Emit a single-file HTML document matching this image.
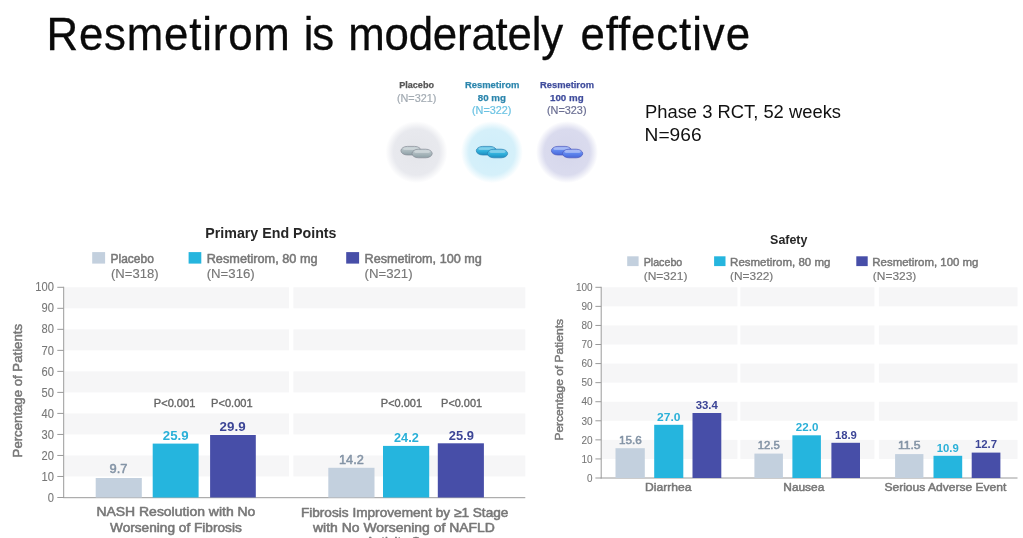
<!DOCTYPE html>
<html lang="en">
<head>
<meta charset="utf-8">
<title>Resmetirom is moderately effective</title>
<style>
html,body{margin:0;padding:0;background:#ffffff;}
body{width:1023px;height:538px;overflow:hidden;position:relative;}
svg{position:absolute;left:0;top:0;display:block;filter:blur(0.45px);font-family:'Liberation Sans', 'DejaVu Sans', sans-serif;}
</style>
</head>
<body>
<svg width="1023" height="538" viewBox="0 0 1023 538" font-family="'Liberation Sans', 'DejaVu Sans', sans-serif">
<text transform="scale(0.94 1)" y="50" font-size="46.6" fill="#0a0a0a" stroke="#0a0a0a" stroke-width="0.3" style="font-variant-ligatures:none"><tspan x="49.47" textLength="258.83" lengthAdjust="spacing">Resmetirom</tspan> <tspan x="323.19" textLength="32.23" lengthAdjust="spacing">is</tspan> <tspan x="370.43" textLength="228.72" lengthAdjust="spacing">moderately</tspan> <tspan x="617.45" textLength="180.43" lengthAdjust="spacing">effective</tspan></text>
<text x="645" y="117.7" font-size="17.5" fill="#111" font-weight="normal" text-anchor="start" textLength="196" lengthAdjust="spacingAndGlyphs">Phase 3 RCT, 52 weeks</text>
<text x="644.6" y="141.1" font-size="17.5" fill="#111" font-weight="normal" text-anchor="start" textLength="57" lengthAdjust="spacingAndGlyphs">N=966</text>
<defs>
<radialGradient id="gG"><stop offset="0" stop-color="#e4e5ea"/><stop offset="0.74" stop-color="#e8e9ee"/><stop offset="1" stop-color="#ffffff"/></radialGradient>
<radialGradient id="gC"><stop offset="0" stop-color="#cfeefa"/><stop offset="0.74" stop-color="#d5f0fa"/><stop offset="1" stop-color="#ffffff"/></radialGradient>
<radialGradient id="gB"><stop offset="0" stop-color="#d5d6eb"/><stop offset="0.74" stop-color="#dadbee"/><stop offset="1" stop-color="#ffffff"/></radialGradient>
<linearGradient id="pG" x1="0" y1="0" x2="0" y2="1"><stop offset="0" stop-color="#c3ced3"/><stop offset="0.55" stop-color="#a9b7bc"/><stop offset="1" stop-color="#8da0a6"/></linearGradient>
<linearGradient id="pC" x1="0" y1="0" x2="0" y2="1"><stop offset="0" stop-color="#62c6e8"/><stop offset="0.55" stop-color="#2fb0dc"/><stop offset="1" stop-color="#1f8dbf"/></linearGradient>
<linearGradient id="pB" x1="0" y1="0" x2="0" y2="1"><stop offset="0" stop-color="#9fb2f6"/><stop offset="0.5" stop-color="#5f86ee"/><stop offset="1" stop-color="#4868d8"/></linearGradient>
</defs>
<circle cx="416.5" cy="152.1" r="31" fill="url(#gG)"/>
<rect x="400.9" y="146.4" width="20.2" height="8.6" rx="6.5" ry="4.3" fill="url(#pG)" stroke="#868d96" stroke-width="0.7"/>
<rect x="403.1" y="147.5" width="15.8" height="2.6" rx="1.3" ry="1.3" fill="#ffffff" opacity="0.3"/>
<rect x="412.0" y="149.2" width="20.2" height="8.6" rx="6.5" ry="4.3" fill="url(#pG)" stroke="#868d96" stroke-width="0.7"/>
<rect x="414.2" y="150.3" width="15.8" height="2.6" rx="1.3" ry="1.3" fill="#ffffff" opacity="0.3"/>
<circle cx="491.9" cy="152.1" r="31" fill="url(#gC)"/>
<rect x="476.3" y="146.4" width="20.2" height="8.6" rx="6.5" ry="4.3" fill="url(#pC)" stroke="#2a80b2" stroke-width="0.7"/>
<rect x="478.5" y="147.5" width="15.8" height="2.6" rx="1.3" ry="1.3" fill="#ffffff" opacity="0.3"/>
<rect x="487.4" y="149.2" width="20.2" height="8.6" rx="6.5" ry="4.3" fill="url(#pC)" stroke="#2a80b2" stroke-width="0.7"/>
<rect x="489.6" y="150.3" width="15.8" height="2.6" rx="1.3" ry="1.3" fill="#ffffff" opacity="0.3"/>
<circle cx="567.0" cy="152.1" r="31" fill="url(#gB)"/>
<rect x="551.4" y="146.4" width="20.2" height="8.6" rx="6.5" ry="4.3" fill="url(#pB)" stroke="#4a58bd" stroke-width="0.7"/>
<rect x="553.6" y="147.5" width="15.8" height="2.6" rx="1.3" ry="1.3" fill="#ffffff" opacity="0.3"/>
<rect x="562.5" y="149.2" width="20.2" height="8.6" rx="6.5" ry="4.3" fill="url(#pB)" stroke="#4a58bd" stroke-width="0.7"/>
<rect x="564.7" y="150.3" width="15.8" height="2.6" rx="1.3" ry="1.3" fill="#ffffff" opacity="0.3"/>
<text x="399.2" y="88.2" font-size="9.9" fill="#555555" font-weight="bold" text-anchor="start" textLength="34.8" lengthAdjust="spacingAndGlyphs" stroke-width="0.25" stroke-linejoin="round" stroke="#555555">Placebo</text>
<text x="396.9" y="101.9" font-size="10.2" fill="#a3abb3" font-weight="normal" text-anchor="start" textLength="39.4" lengthAdjust="spacingAndGlyphs" stroke="#a3abb3" stroke-width="0.2" stroke-linejoin="round">(N=321)</text>
<text x="464.9" y="88.2" font-size="9.9" fill="#2c86ad" font-weight="bold" text-anchor="start" textLength="54.5" lengthAdjust="spacingAndGlyphs" stroke-width="0.25" stroke-linejoin="round" stroke="#2c86ad">Resmetirom</text>
<text x="477.8" y="101.2" font-size="9.9" fill="#2c86ad" font-weight="bold" text-anchor="start" textLength="28.2" lengthAdjust="spacingAndGlyphs" stroke-width="0.25" stroke-linejoin="round" stroke="#2c86ad">80 mg</text>
<text x="472.0" y="113.6" font-size="10.2" fill="#6cc3e3" font-weight="normal" text-anchor="start" textLength="39.4" lengthAdjust="spacingAndGlyphs" stroke="#6cc3e3" stroke-width="0.2" stroke-linejoin="round">(N=322)</text>
<text x="540.0" y="88.2" font-size="9.9" fill="#3f4c9c" font-weight="bold" text-anchor="start" textLength="54.0" lengthAdjust="spacingAndGlyphs" stroke-width="0.25" stroke-linejoin="round" stroke="#3f4c9c">Resmetirom</text>
<text x="550.0" y="101.2" font-size="9.9" fill="#3f4c9c" font-weight="bold" text-anchor="start" textLength="33.6" lengthAdjust="spacingAndGlyphs" stroke-width="0.25" stroke-linejoin="round" stroke="#3f4c9c">100 mg</text>
<text x="547.0" y="113.6" font-size="10.2" fill="#6b6f93" font-weight="normal" text-anchor="start" textLength="39.5" lengthAdjust="spacingAndGlyphs" stroke="#6b6f93" stroke-width="0.2" stroke-linejoin="round">(N=323)</text>
<text x="205.3" y="237.9" font-size="14.6" fill="#262626" font-weight="bold" text-anchor="start" textLength="131.2" lengthAdjust="spacingAndGlyphs">Primary End Points</text>
<rect x="92.2" y="252.1" width="12.9" height="11.5" fill="#c3d0de"/>
<text x="110.5" y="263.1" font-size="12.3" fill="#777777" font-weight="normal" text-anchor="start" textLength="43.4" lengthAdjust="spacingAndGlyphs" stroke="#777777" stroke-width="0.5" stroke-linejoin="round">Placebo</text>
<text x="111.0" y="278.3" font-size="12.3" fill="#777777" font-weight="normal" text-anchor="start" textLength="47.6" lengthAdjust="spacingAndGlyphs" stroke="#777777" stroke-width="0.15" stroke-linejoin="round">(N=318)</text>
<rect x="188.6" y="252.1" width="12.7" height="11.5" fill="#25b5de"/>
<text x="206.7" y="263.1" font-size="12.3" fill="#777777" font-weight="normal" text-anchor="start" textLength="110.9" lengthAdjust="spacingAndGlyphs" stroke="#777777" stroke-width="0.5" stroke-linejoin="round">Resmetirom, 80 mg</text>
<text x="206.7" y="278.3" font-size="12.3" fill="#777777" font-weight="normal" text-anchor="start" textLength="48.1" lengthAdjust="spacingAndGlyphs" stroke="#777777" stroke-width="0.15" stroke-linejoin="round">(N=316)</text>
<rect x="346.2" y="252.1" width="12.9" height="11.5" fill="#474ea8"/>
<text x="364.5" y="263.1" font-size="12.3" fill="#777777" font-weight="normal" text-anchor="start" textLength="117.3" lengthAdjust="spacingAndGlyphs" stroke="#777777" stroke-width="0.5" stroke-linejoin="round">Resmetirom, 100 mg</text>
<text x="364.5" y="278.3" font-size="12.3" fill="#777777" font-weight="normal" text-anchor="start" textLength="48.1" lengthAdjust="spacingAndGlyphs" stroke="#777777" stroke-width="0.15" stroke-linejoin="round">(N=321)</text>
<rect x="64.2" y="287.3" width="224.8" height="21.02" fill="#f6f6f7"/>
<rect x="293.4" y="287.3" width="231.9" height="21.02" fill="#f6f6f7"/>
<rect x="64.2" y="329.34000000000003" width="224.8" height="21.02" fill="#f6f6f7"/>
<rect x="293.4" y="329.34000000000003" width="231.9" height="21.02" fill="#f6f6f7"/>
<rect x="64.2" y="371.38" width="224.8" height="21.02" fill="#f6f6f7"/>
<rect x="293.4" y="371.38" width="231.9" height="21.02" fill="#f6f6f7"/>
<rect x="64.2" y="413.42" width="224.8" height="21.02" fill="#f6f6f7"/>
<rect x="293.4" y="413.42" width="231.9" height="21.02" fill="#f6f6f7"/>
<rect x="64.2" y="455.46" width="224.8" height="21.02" fill="#f6f6f7"/>
<rect x="293.4" y="455.46" width="231.9" height="21.02" fill="#f6f6f7"/>
<path d="M63.7 286.8 V498.0 M63.2 497.7 H525.3" stroke="#9a9a9a" stroke-width="1" fill="none"/>
<path d="M57.3 497.50 H63.7" stroke="#9a9a9a" stroke-width="1"/>
<text x="53.9" y="501.65" font-size="12" fill="#777777" font-weight="normal" text-anchor="end" textLength="6.2" lengthAdjust="spacingAndGlyphs" stroke="#777777" stroke-width="0.1" stroke-linejoin="round">0</text>
<path d="M57.3 476.48 H63.7" stroke="#9a9a9a" stroke-width="1"/>
<text x="53.9" y="480.63" font-size="12" fill="#777777" font-weight="normal" text-anchor="end" textLength="12.4" lengthAdjust="spacingAndGlyphs" stroke="#777777" stroke-width="0.1" stroke-linejoin="round">10</text>
<path d="M57.3 455.46 H63.7" stroke="#9a9a9a" stroke-width="1"/>
<text x="53.9" y="459.61" font-size="12" fill="#777777" font-weight="normal" text-anchor="end" textLength="12.4" lengthAdjust="spacingAndGlyphs" stroke="#777777" stroke-width="0.1" stroke-linejoin="round">20</text>
<path d="M57.3 434.44 H63.7" stroke="#9a9a9a" stroke-width="1"/>
<text x="53.9" y="438.59" font-size="12" fill="#777777" font-weight="normal" text-anchor="end" textLength="12.4" lengthAdjust="spacingAndGlyphs" stroke="#777777" stroke-width="0.1" stroke-linejoin="round">30</text>
<path d="M57.3 413.42 H63.7" stroke="#9a9a9a" stroke-width="1"/>
<text x="53.9" y="417.57" font-size="12" fill="#777777" font-weight="normal" text-anchor="end" textLength="12.4" lengthAdjust="spacingAndGlyphs" stroke="#777777" stroke-width="0.1" stroke-linejoin="round">40</text>
<path d="M57.3 392.40 H63.7" stroke="#9a9a9a" stroke-width="1"/>
<text x="53.9" y="396.55" font-size="12" fill="#777777" font-weight="normal" text-anchor="end" textLength="12.4" lengthAdjust="spacingAndGlyphs" stroke="#777777" stroke-width="0.1" stroke-linejoin="round">50</text>
<path d="M57.3 371.38 H63.7" stroke="#9a9a9a" stroke-width="1"/>
<text x="53.9" y="375.53" font-size="12" fill="#777777" font-weight="normal" text-anchor="end" textLength="12.4" lengthAdjust="spacingAndGlyphs" stroke="#777777" stroke-width="0.1" stroke-linejoin="round">60</text>
<path d="M57.3 350.36 H63.7" stroke="#9a9a9a" stroke-width="1"/>
<text x="53.9" y="354.51" font-size="12" fill="#777777" font-weight="normal" text-anchor="end" textLength="12.4" lengthAdjust="spacingAndGlyphs" stroke="#777777" stroke-width="0.1" stroke-linejoin="round">70</text>
<path d="M57.3 329.34 H63.7" stroke="#9a9a9a" stroke-width="1"/>
<text x="53.9" y="333.49" font-size="12" fill="#777777" font-weight="normal" text-anchor="end" textLength="12.4" lengthAdjust="spacingAndGlyphs" stroke="#777777" stroke-width="0.1" stroke-linejoin="round">80</text>
<path d="M57.3 308.32 H63.7" stroke="#9a9a9a" stroke-width="1"/>
<text x="53.9" y="312.47" font-size="12" fill="#777777" font-weight="normal" text-anchor="end" textLength="12.4" lengthAdjust="spacingAndGlyphs" stroke="#777777" stroke-width="0.1" stroke-linejoin="round">90</text>
<path d="M57.3 287.30 H63.7" stroke="#9a9a9a" stroke-width="1"/>
<text x="53.9" y="291.45" font-size="12" fill="#777777" font-weight="normal" text-anchor="end" textLength="18.6" lengthAdjust="spacingAndGlyphs" stroke="#777777" stroke-width="0.1" stroke-linejoin="round">100</text>
<text transform="translate(21.9 457.4) rotate(-90)" font-size="13.0" fill="#777777" stroke="#777777" stroke-width="0.5" textLength="133.4" lengthAdjust="spacingAndGlyphs">Percentage of Patients</text>
<rect x="95.7" y="478.0" width="46.1" height="19.5" fill="#c3d0de"/>
<rect x="152.7" y="443.6" width="45.9" height="53.9" fill="#25b5de"/>
<rect x="210.1" y="435.0" width="45.7" height="62.5" fill="#474ea8"/>
<text x="109.6" y="473.4" font-size="13.5" fill="#8494a6" font-weight="normal" text-anchor="start" textLength="17.9" lengthAdjust="spacingAndGlyphs" stroke="#8494a6" stroke-width="0.55" stroke-linejoin="round">9.7</text>
<text x="162.8" y="439.7" font-size="13.5" fill="#2ab0d8" font-weight="bold" text-anchor="start" textLength="25.8" lengthAdjust="spacingAndGlyphs">25.9</text>
<text x="219.6" y="430.6" font-size="13.5" fill="#3c4596" font-weight="bold" text-anchor="start" textLength="26.0" lengthAdjust="spacingAndGlyphs">29.9</text>
<text x="153.8" y="406.8" font-size="10.8" fill="#646464" font-weight="normal" text-anchor="start" textLength="41.5" lengthAdjust="spacingAndGlyphs" stroke="#646464" stroke-width="0.35" stroke-linejoin="round">P&lt;0.001</text>
<text x="211.1" y="406.8" font-size="10.8" fill="#646464" font-weight="normal" text-anchor="start" textLength="41.5" lengthAdjust="spacingAndGlyphs" stroke="#646464" stroke-width="0.35" stroke-linejoin="round">P&lt;0.001</text>
<text x="96.4" y="516.3" font-size="12.9" fill="#777777" font-weight="normal" text-anchor="start" textLength="159.0" lengthAdjust="spacingAndGlyphs" stroke="#777777" stroke-width="0.55" stroke-linejoin="round">NASH Resolution with No</text>
<text x="110.0" y="531.8" font-size="12.9" fill="#777777" font-weight="normal" text-anchor="start" textLength="131.8" lengthAdjust="spacingAndGlyphs" stroke="#777777" stroke-width="0.55" stroke-linejoin="round">Worsening of Fibrosis</text>
<rect x="328.3" y="467.8" width="46.2" height="29.7" fill="#c3d0de"/>
<rect x="383.0" y="445.9" width="46.2" height="51.6" fill="#25b5de"/>
<rect x="437.8" y="443.3" width="46.1" height="54.2" fill="#474ea8"/>
<text x="339.0" y="463.8" font-size="13.5" fill="#8494a6" font-weight="normal" text-anchor="start" textLength="24.8" lengthAdjust="spacingAndGlyphs" stroke="#8494a6" stroke-width="0.55" stroke-linejoin="round">14.2</text>
<text x="394.0" y="441.7" font-size="13.5" fill="#2ab0d8" font-weight="bold" text-anchor="start" textLength="24.8" lengthAdjust="spacingAndGlyphs">24.2</text>
<text x="448.8" y="439.5" font-size="13.5" fill="#3c4596" font-weight="bold" text-anchor="start" textLength="25.1" lengthAdjust="spacingAndGlyphs">25.9</text>
<text x="380.8" y="407.0" font-size="10.8" fill="#646464" font-weight="normal" text-anchor="start" textLength="41.3" lengthAdjust="spacingAndGlyphs" stroke="#646464" stroke-width="0.35" stroke-linejoin="round">P&lt;0.001</text>
<text x="441.1" y="407.0" font-size="10.8" fill="#646464" font-weight="normal" text-anchor="start" textLength="41.0" lengthAdjust="spacingAndGlyphs" stroke="#646464" stroke-width="0.35" stroke-linejoin="round">P&lt;0.001</text>
<text x="300.9" y="516.6" font-size="12.9" fill="#777777" font-weight="normal" text-anchor="start" textLength="207.5" lengthAdjust="spacingAndGlyphs" stroke="#777777" stroke-width="0.55" stroke-linejoin="round">Fibrosis Improvement by ≥1 Stage</text>
<text x="313.0" y="532.0" font-size="12.9" fill="#777777" font-weight="normal" text-anchor="start" textLength="181.9" lengthAdjust="spacingAndGlyphs" stroke="#777777" stroke-width="0.55" stroke-linejoin="round">with No Worsening of NAFLD</text>
<text x="365.8" y="546.3" font-size="12.9" fill="#777777" font-weight="normal" text-anchor="start" textLength="80.4" lengthAdjust="spacingAndGlyphs" stroke="#777777" stroke-width="0.55" stroke-linejoin="round">Activity Score</text>
<text x="770.1" y="243.6" font-size="13.7" fill="#262626" font-weight="bold" text-anchor="start" textLength="37.3" lengthAdjust="spacingAndGlyphs">Safety</text>
<rect x="627.2" y="256.3" width="11.4" height="9.8" fill="#c3d0de"/>
<text x="643.7" y="266.0" font-size="11.2" fill="#777777" font-weight="normal" text-anchor="start" textLength="38.6" lengthAdjust="spacingAndGlyphs" stroke="#777777" stroke-width="0.45" stroke-linejoin="round">Placebo</text>
<text x="643.7" y="280.4" font-size="11.2" fill="#777777" font-weight="normal" text-anchor="start" textLength="43.7" lengthAdjust="spacingAndGlyphs" stroke="#777777" stroke-width="0.15" stroke-linejoin="round">(N=321)</text>
<rect x="714.1" y="256.3" width="11.4" height="9.8" fill="#25b5de"/>
<text x="730.1" y="266.0" font-size="11.2" fill="#777777" font-weight="normal" text-anchor="start" textLength="100.3" lengthAdjust="spacingAndGlyphs" stroke="#777777" stroke-width="0.45" stroke-linejoin="round">Resmetirom, 80 mg</text>
<text x="730.1" y="280.4" font-size="11.2" fill="#777777" font-weight="normal" text-anchor="start" textLength="43.2" lengthAdjust="spacingAndGlyphs" stroke="#777777" stroke-width="0.15" stroke-linejoin="round">(N=322)</text>
<rect x="856.3" y="256.3" width="11.4" height="9.8" fill="#474ea8"/>
<text x="872.3" y="266.0" font-size="11.2" fill="#777777" font-weight="normal" text-anchor="start" textLength="106.2" lengthAdjust="spacingAndGlyphs" stroke="#777777" stroke-width="0.45" stroke-linejoin="round">Resmetirom, 100 mg</text>
<text x="872.8" y="280.4" font-size="11.2" fill="#777777" font-weight="normal" text-anchor="start" textLength="43.5" lengthAdjust="spacingAndGlyphs" stroke="#777777" stroke-width="0.15" stroke-linejoin="round">(N=323)</text>
<rect x="602.0" y="287.3" width="135.4" height="19.07" fill="#f6f6f7"/>
<rect x="740.4" y="287.3" width="134.0" height="19.07" fill="#f6f6f7"/>
<rect x="878.9" y="287.3" width="138.6" height="19.07" fill="#f6f6f7"/>
<rect x="602.0" y="325.44" width="135.4" height="19.07" fill="#f6f6f7"/>
<rect x="740.4" y="325.44" width="134.0" height="19.07" fill="#f6f6f7"/>
<rect x="878.9" y="325.44" width="138.6" height="19.07" fill="#f6f6f7"/>
<rect x="602.0" y="363.58" width="135.4" height="19.07" fill="#f6f6f7"/>
<rect x="740.4" y="363.58" width="134.0" height="19.07" fill="#f6f6f7"/>
<rect x="878.9" y="363.58" width="138.6" height="19.07" fill="#f6f6f7"/>
<rect x="602.0" y="401.72" width="135.4" height="19.07" fill="#f6f6f7"/>
<rect x="740.4" y="401.72" width="134.0" height="19.07" fill="#f6f6f7"/>
<rect x="878.9" y="401.72" width="138.6" height="19.07" fill="#f6f6f7"/>
<rect x="602.0" y="439.86" width="135.4" height="19.07" fill="#f6f6f7"/>
<rect x="740.4" y="439.86" width="134.0" height="19.07" fill="#f6f6f7"/>
<rect x="878.9" y="439.86" width="138.6" height="19.07" fill="#f6f6f7"/>
<path d="M601.2 286.8 V478.5 M600.7 478.0 H1017.5" stroke="#9a9a9a" stroke-width="1" fill="none"/>
<path d="M595.4 478.00 H601.2" stroke="#9a9a9a" stroke-width="1"/>
<text x="592.5" y="481.75" font-size="10.8" fill="#777777" font-weight="normal" text-anchor="end" textLength="5.5" lengthAdjust="spacingAndGlyphs" stroke="#777777" stroke-width="0.1" stroke-linejoin="round">0</text>
<path d="M595.4 458.93 H601.2" stroke="#9a9a9a" stroke-width="1"/>
<text x="592.5" y="462.68" font-size="10.8" fill="#777777" font-weight="normal" text-anchor="end" textLength="11.1" lengthAdjust="spacingAndGlyphs" stroke="#777777" stroke-width="0.1" stroke-linejoin="round">10</text>
<path d="M595.4 439.86 H601.2" stroke="#9a9a9a" stroke-width="1"/>
<text x="592.5" y="443.61" font-size="10.8" fill="#777777" font-weight="normal" text-anchor="end" textLength="11.1" lengthAdjust="spacingAndGlyphs" stroke="#777777" stroke-width="0.1" stroke-linejoin="round">20</text>
<path d="M595.4 420.79 H601.2" stroke="#9a9a9a" stroke-width="1"/>
<text x="592.5" y="424.54" font-size="10.8" fill="#777777" font-weight="normal" text-anchor="end" textLength="11.1" lengthAdjust="spacingAndGlyphs" stroke="#777777" stroke-width="0.1" stroke-linejoin="round">30</text>
<path d="M595.4 401.72 H601.2" stroke="#9a9a9a" stroke-width="1"/>
<text x="592.5" y="405.47" font-size="10.8" fill="#777777" font-weight="normal" text-anchor="end" textLength="11.1" lengthAdjust="spacingAndGlyphs" stroke="#777777" stroke-width="0.1" stroke-linejoin="round">40</text>
<path d="M595.4 382.65 H601.2" stroke="#9a9a9a" stroke-width="1"/>
<text x="592.5" y="386.4" font-size="10.8" fill="#777777" font-weight="normal" text-anchor="end" textLength="11.1" lengthAdjust="spacingAndGlyphs" stroke="#777777" stroke-width="0.1" stroke-linejoin="round">50</text>
<path d="M595.4 363.58 H601.2" stroke="#9a9a9a" stroke-width="1"/>
<text x="592.5" y="367.33" font-size="10.8" fill="#777777" font-weight="normal" text-anchor="end" textLength="11.1" lengthAdjust="spacingAndGlyphs" stroke="#777777" stroke-width="0.1" stroke-linejoin="round">60</text>
<path d="M595.4 344.51 H601.2" stroke="#9a9a9a" stroke-width="1"/>
<text x="592.5" y="348.26" font-size="10.8" fill="#777777" font-weight="normal" text-anchor="end" textLength="11.1" lengthAdjust="spacingAndGlyphs" stroke="#777777" stroke-width="0.1" stroke-linejoin="round">70</text>
<path d="M595.4 325.44 H601.2" stroke="#9a9a9a" stroke-width="1"/>
<text x="592.5" y="329.19" font-size="10.8" fill="#777777" font-weight="normal" text-anchor="end" textLength="11.1" lengthAdjust="spacingAndGlyphs" stroke="#777777" stroke-width="0.1" stroke-linejoin="round">80</text>
<path d="M595.4 306.37 H601.2" stroke="#9a9a9a" stroke-width="1"/>
<text x="592.5" y="310.12" font-size="10.8" fill="#777777" font-weight="normal" text-anchor="end" textLength="11.1" lengthAdjust="spacingAndGlyphs" stroke="#777777" stroke-width="0.1" stroke-linejoin="round">90</text>
<path d="M595.4 287.30 H601.2" stroke="#9a9a9a" stroke-width="1"/>
<text x="592.5" y="291.05" font-size="10.8" fill="#777777" font-weight="normal" text-anchor="end" textLength="16.6" lengthAdjust="spacingAndGlyphs" stroke="#777777" stroke-width="0.1" stroke-linejoin="round">100</text>
<text transform="translate(563.4 440.6) rotate(-90)" font-size="11.5" fill="#777777" stroke="#777777" stroke-width="0.45" textLength="121.6" lengthAdjust="spacingAndGlyphs">Percentage of Patients</text>
<rect x="615.5" y="448.2" width="29.3" height="29.8" fill="#c3d0de"/>
<rect x="654.2" y="424.8" width="29.1" height="53.2" fill="#25b5de"/>
<rect x="692.5" y="413.0" width="28.8" height="65.0" fill="#474ea8"/>
<rect x="754.4" y="453.6" width="28.5" height="24.4" fill="#c3d0de"/>
<rect x="792.4" y="435.3" width="28.5" height="42.7" fill="#25b5de"/>
<rect x="831.4" y="442.8" width="28.6" height="35.2" fill="#474ea8"/>
<rect x="895.1" y="454.1" width="28.3" height="23.9" fill="#c3d0de"/>
<rect x="933.5" y="455.8" width="28.7" height="22.2" fill="#25b5de"/>
<rect x="971.7" y="452.6" width="28.7" height="25.4" fill="#474ea8"/>
<text x="619.1" y="443.9" font-size="11.3" fill="#8494a6" font-weight="normal" text-anchor="start" textLength="22.7" lengthAdjust="spacingAndGlyphs" stroke="#8494a6" stroke-width="0.55" stroke-linejoin="round">15.6</text>
<text x="657.1" y="420.8" font-size="11.3" fill="#2ab0d8" font-weight="bold" text-anchor="start" textLength="23.4" lengthAdjust="spacingAndGlyphs">27.0</text>
<text x="695.7" y="409.0" font-size="11.3" fill="#3c4596" font-weight="bold" text-anchor="start" textLength="22.2" lengthAdjust="spacingAndGlyphs">33.4</text>
<text x="757.8" y="449.3" font-size="11.3" fill="#8494a6" font-weight="normal" text-anchor="start" textLength="22.0" lengthAdjust="spacingAndGlyphs" stroke="#8494a6" stroke-width="0.55" stroke-linejoin="round">12.5</text>
<text x="795.8" y="431.0" font-size="11.3" fill="#2ab0d8" font-weight="bold" text-anchor="start" textLength="22.6" lengthAdjust="spacingAndGlyphs">22.0</text>
<text x="834.9" y="438.5" font-size="11.3" fill="#3c4596" font-weight="bold" text-anchor="start" textLength="22.0" lengthAdjust="spacingAndGlyphs">18.9</text>
<text x="897.9" y="449.3" font-size="11.3" fill="#8494a6" font-weight="normal" text-anchor="start" textLength="22.7" lengthAdjust="spacingAndGlyphs" stroke="#8494a6" stroke-width="0.55" stroke-linejoin="round">11.5</text>
<text x="936.7" y="451.5" font-size="11.3" fill="#2ab0d8" font-weight="bold" text-anchor="start" textLength="22.0" lengthAdjust="spacingAndGlyphs">10.9</text>
<text x="974.9" y="448.2" font-size="11.3" fill="#3c4596" font-weight="bold" text-anchor="start" textLength="22.2" lengthAdjust="spacingAndGlyphs">12.7</text>
<text x="645.0" y="490.7" font-size="11.5" fill="#777777" font-weight="normal" text-anchor="start" textLength="46.4" lengthAdjust="spacingAndGlyphs" stroke="#777777" stroke-width="0.5" stroke-linejoin="round">Diarrhea</text>
<text x="783.3" y="490.7" font-size="11.5" fill="#777777" font-weight="normal" text-anchor="start" textLength="41.0" lengthAdjust="spacingAndGlyphs" stroke="#777777" stroke-width="0.5" stroke-linejoin="round">Nausea</text>
<text x="884.4" y="490.7" font-size="11.5" fill="#777777" font-weight="normal" text-anchor="start" textLength="122.0" lengthAdjust="spacingAndGlyphs" stroke="#777777" stroke-width="0.5" stroke-linejoin="round">Serious Adverse Event</text>
</svg>
</body>
</html>
